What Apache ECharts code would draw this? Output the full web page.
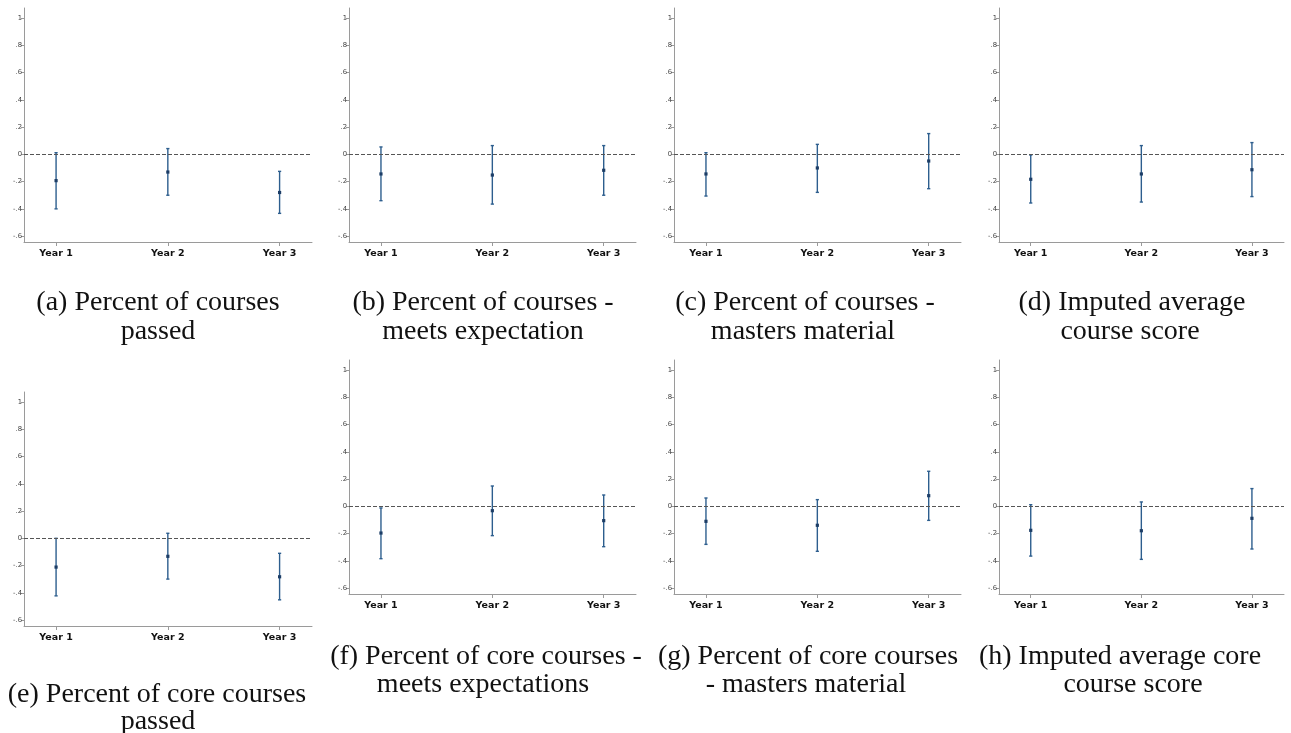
<!DOCTYPE html>
<html>
<head>
<meta charset="utf-8">
<script src="https://cdn.jsdelivr.net/npm/echarts@6/dist/echarts.min.js"></script>
<style>
html,body{margin:0;padding:0;background:#fff;}
#chart{width:1291px;height:733px;}
</style>
</head>
<body>
<div id="chart"></div>
<script>
// ---- data ----
const years = ['Year 1', 'Year 2', 'Year 3'];
const yTicks = [-0.6, -0.4, -0.2, 0, 0.2, 0.4, 0.6, 0.8, 1];
const yTickLabels = ['-.6', '-.4', '-.2', '0', '.2', '.4', '.6', '.8', '1'];

const captionLine1 = [
  '(a) Percent of courses',
  '(b) Percent of courses -',
  '(c) Percent of courses -',
  '(d) Imputed average',
  '(e) Percent of core courses',
  '(f) Percent of core courses -',
  '(g) Percent of core courses',
  '(h) Imputed average core'
];
const captionLine2 = [
  'passed',
  'meets expectation',
  'masters material',
  'course score',
  'passed',
  'meets expectations',
  '- masters material',
  'course score'
];

// point estimate, lower and upper bound for Year 1..3
const aPoint = [-0.193, -0.130, -0.280];
const aLow   = [-0.400, -0.300, -0.433];
const aHigh  = [ 0.012,  0.042, -0.125];

const bPoint = [-0.144, -0.152, -0.117];
const bLow   = [-0.340, -0.365, -0.300];
const bHigh  = [ 0.054,  0.064,  0.064];

const cPoint = [-0.144, -0.100, -0.049];
const cLow   = [-0.306, -0.279, -0.252];
const cHigh  = [ 0.012,  0.073,  0.152];

const dPoint = [-0.183, -0.144, -0.113];
const dLow   = [-0.357, -0.350, -0.310];
const dHigh  = [-0.005,  0.064,  0.086];

const ePoint = [-0.211, -0.132, -0.282];
const eLow   = [-0.422, -0.299, -0.451];
const eHigh  = [ 0.000,  0.037, -0.110];

const fPoint = [-0.196, -0.032, -0.105];
const fLow   = [-0.384, -0.215, -0.296];
const fHigh  = [-0.012,  0.149,  0.083];

const gPoint = [-0.110, -0.139,  0.078];
const gLow   = [-0.279, -0.330, -0.103];
const gHigh  = [ 0.061,  0.049,  0.257];

const hPoint = [-0.176, -0.179, -0.088];
const hLow   = [-0.365, -0.389, -0.313];
const hHigh  = [ 0.012,  0.032,  0.130];

const panels = [
  [aPoint, aLow, aHigh], [bPoint, bLow, bHigh], [cPoint, cLow, cHigh], [dPoint, dLow, dHigh],
  [ePoint, eLow, eHigh], [fPoint, fLow, fHigh], [gPoint, gLow, gHigh], [hPoint, hLow, hHigh]
];

// ---- layout ----
const gridBoxes = [
  {left: 24,  top: 8,   width: 288, height: 234},
  {left: 349, top: 8,   width: 287, height: 234},
  {left: 674, top: 8,   width: 287, height: 234},
  {left: 999, top: 8,   width: 285, height: 234},
  {left: 24,  top: 392, width: 288, height: 234},
  {left: 349, top: 360, width: 287, height: 234},
  {left: 674, top: 360, width: 287, height: 234},
  {left: 999, top: 360, width: 285, height: 234}
];
// [x line1, x line2, y line1, y line2]
const captionPos = [
  [158, 158, 303, 332], [483, 483, 303, 332], [805, 803, 303, 332], [1132, 1130, 303, 332],
  [157, 158, 695, 722], [486, 483, 657, 685], [808, 806, 657, 685], [1120, 1133, 657, 685]
];

const barColor = '#2d5e8e';
const ptColor = '#1c3d66';
const axisColor = '#9a9a9a';

const chart = echarts.init(document.getElementById('chart'), null, {renderer: 'canvas'});

const grids = [], xAxes = [], yAxes = [], series = [], graphics = [];

panels.forEach((p, i) => {
  grids.push(Object.assign({containLabel: false}, gridBoxes[i]));
  xAxes.push({
    type: 'value', gridIndex: i, min: 0.713, max: 3.29,
    axisLine: {show: true, onZero: false, lineStyle: {color: axisColor, width: 1}},
    axisTick: {show: true, customValues: [1, 2, 3], length: 4, lineStyle: {color: axisColor}},
    axisLabel: {
      show: true, customValues: [1, 2, 3], margin: 7,
      formatter: v => years[Math.round(v) - 1],
      fontFamily: 'DejaVu Sans', fontWeight: 'bold', fontSize: 9.5, color: '#111'
    },
    splitLine: {show: false}
  });
  yAxes.push({
    type: 'value', gridIndex: i, min: -0.643, max: 1.073,
    axisLine: {show: true, lineStyle: {color: axisColor, width: 1}},
    axisTick: {show: true, customValues: yTicks, length: 3, lineStyle: {color: axisColor}},
    axisLabel: {
      show: true, customValues: yTicks, margin: 2,
      formatter: v => {
        const k = yTicks.findIndex(t => Math.abs(t - v) < 1e-6);
        return k >= 0 ? yTickLabels[k] : '';
      },
      fontFamily: 'DejaVu Sans', fontSize: 6.8, color: '#444'
    },
    splitLine: {show: false}
  });
  const data = p[0].map((pt, k) => [k + 1, pt, p[1][k], p[2][k]]);
  series.push({
    type: 'custom', xAxisIndex: i, yAxisIndex: i, data: data,
    renderItem: (params, api) => {
      const x = api.value(0);
      const top = api.coord([x, api.value(3)]);
      const bot = api.coord([x, api.value(2)]);
      const mid = api.coord([x, api.value(1)]);
      const cw = 1.6;
      const ls = {stroke: barColor, lineWidth: 1.4};
      return {
        type: 'group',
        children: [
          {type: 'line', shape: {x1: top[0], y1: top[1], x2: bot[0], y2: bot[1]}, style: ls},
          {type: 'line', shape: {x1: top[0] - cw, y1: top[1], x2: top[0] + cw, y2: top[1]}, style: ls},
          {type: 'line', shape: {x1: bot[0] - cw, y1: bot[1], x2: bot[0] + cw, y2: bot[1]}, style: ls},
          {type: 'rect', shape: {x: mid[0] - 1.6, y: mid[1] - 1.6, width: 3.2, height: 3.2}, style: {fill: ptColor}}
        ]
      };
    },
    markLine: {
      silent: true, symbol: ['none', 'none'], label: {show: false},
      lineStyle: {type: [4, 2], color: '#555', width: 1},
      data: [{yAxis: 0}]
    },
    z: 3
  });
  const cp = captionPos[i];
  [[captionLine1[i], cp[0], cp[2]], [captionLine2[i], cp[1], cp[3]]].forEach(t => {
    graphics.push({
      type: 'text', x: t[1], y: t[2],
      style: {
        text: t[0], align: 'center', verticalAlign: 'middle',
        fontFamily: 'Liberation Serif', fontSize: 28, fill: '#111'
      }
    });
  });
});

chart.setOption({
  animation: false,
  backgroundColor: '#fff',
  grid: grids, xAxis: xAxes, yAxis: yAxes, series: series,
  graphic: graphics
});
</script>
</body>
</html>
